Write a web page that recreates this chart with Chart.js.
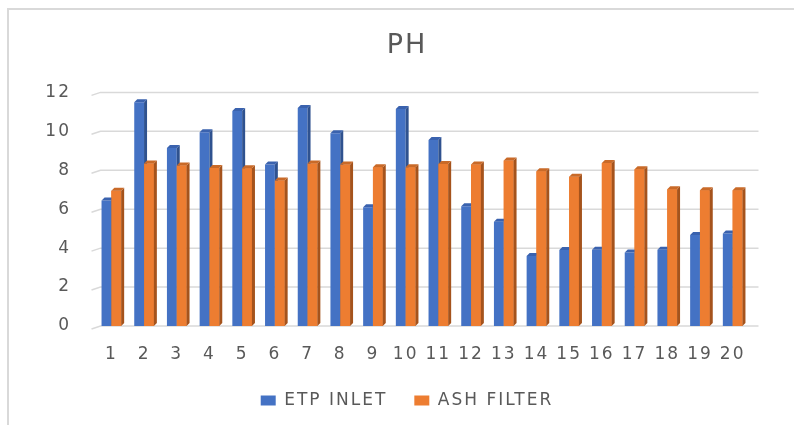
<!DOCTYPE html>
<html>
<head>
<meta charset="utf-8">
<script src="https://cdn.jsdelivr.net/npm/chart.js@4/dist/chart.umd.min.js"></script>
<style>
html,body{margin:0;padding:0;background:#fff;}
#wrap{width:794px;height:425px;position:relative;}
</style>
</head>
<body>
<div id="wrap"><canvas id="c" width="794" height="425"></canvas></div>
<script>
const categories = ["1","2","3","4","5","6","7","8","9","10","11","12","13","14","15","16","17","18","19","20"];
const etpInlet = [6.45, 11.5, 9.15, 9.95, 11.05, 8.3, 11.2, 9.9, 6.1, 11.15, 9.55, 6.15, 5.35, 3.6, 3.9, 3.92, 3.78, 3.92, 4.68, 4.75];
const ashFilter = [6.95, 8.35, 8.25, 8.12, 8.1, 7.47, 8.35, 8.3, 8.15, 8.15, 8.32, 8.3, 8.5, 7.95, 7.67, 8.37, 8.05, 7.03, 6.97, 6.97];
const yTicks = [0, 2, 4, 6, 8, 10, 12];

const FONT = "'DejaVu Sans', sans-serif";
const TXT = '#595959';

const spacingPlugin = {
  id: 'spacing',
  beforeUpdate(chart){ chart.ctx.letterSpacing = '2px'; },
  beforeDraw(chart){ chart.ctx.letterSpacing = '2px'; }
};

const framePlugin = {
  id: 'frame',
  beforeDraw(chart){
    const ctx = chart.ctx;
    ctx.save();
    ctx.strokeStyle = '#d9d9d9';
    ctx.lineWidth = 2;
    ctx.strokeRect(8, 9, 1200, 800);
    ctx.restore();
  }
};

const gridPlugin = {
  id: 'grid3d',
  beforeDatasetsDraw(chart){
    const ctx = chart.ctx, ys = chart.scales.y, a = chart.chartArea;
    ctx.save();
    ctx.strokeStyle = '#d9d9d9';
    ctx.lineWidth = 1.5;
    ys.ticks.forEach(t => {
      const y = ys.getPixelForValue(t.value);
      ctx.beginPath();
      ctx.moveTo(a.left - 3.5, y + 3);
      ctx.lineTo(a.left + 5.5, y);
      ctx.lineTo(a.right + 9.5, y);
      ctx.stroke();
    });
    ctx.restore();
  }
};

const sideColors = ['#2F528F', '#A5531C'];
const topColors = ['#3A62AE', '#C96A28'];
function drawFaces(ctx, meta, i){
  const d = 3;
  meta.data.forEach(el => {
    const p = el.getProps(['x','y','width','base'], true);
    const l = p.x - p.width/2, r = p.x + p.width/2;
    ctx.fillStyle = sideColors[i];
    ctx.beginPath();
    ctx.moveTo(r, p.y);
    ctx.lineTo(r + d, p.y - d);
    ctx.lineTo(r + d, p.base - d);
    ctx.lineTo(r, p.base);
    ctx.closePath();
    ctx.fill();
    ctx.fillStyle = topColors[i];
    ctx.beginPath();
    ctx.moveTo(l, p.y);
    ctx.lineTo(l + d, p.y - d);
    ctx.lineTo(r + d, p.y - d);
    ctx.lineTo(r, p.y);
    ctx.closePath();
    ctx.fill();
  });
}
const bar3dPlugin = {
  id: 'bar3d',
  afterDatasetsDraw(chart){
    const ctx = chart.ctx;
    ctx.save();
    drawFaces(ctx, chart.getDatasetMeta(0), 0);
    const m1 = chart.getDatasetMeta(1);
    m1.data.forEach(el => el.draw(ctx));
    drawFaces(ctx, m1, 1);
    ctx.restore();
  }
};

new Chart(document.getElementById('c'), {
  type: 'bar',
  data: {
    labels: categories,
    datasets: [
      { label: 'ETP INLET', data: etpInlet, backgroundColor: '#4472C4' },
      { label: 'ASH FILTER', data: ashFilter, backgroundColor: '#ED7D31' }
    ]
  },
  options: {
    responsive: false,
    animation: false,
    devicePixelRatio: 1,
    layout: { padding: { left: 20, right: 0, top: 0, bottom: 6 } },
    datasets: { bar: { categoryPercentage: 0.6, barPercentage: 1.0 } },
    plugins: {
      title: {
        display: true, text: 'PH', color: TXT,
        font: { family: FONT, size: 27, weight: 'normal' },
        padding: { top: 30, bottom: 30 }
      },
      legend: {
        position: 'bottom',
        labels: {
          color: TXT, font: { family: FONT, size: 17 },
          boxWidth: 15, boxHeight: 10, padding: 27
        }
      },
      tooltip: { enabled: false }
    },
    scales: {
      x: {
        grid: { display: false }, border: { display: false },
        afterFit: s => { s.height = 39; },
        ticks: { color: TXT, font: { family: FONT, size: 17 }, padding: 10, maxRotation: 0, autoSkip: false }
      },
      y: {
        min: 0, max: 12,
        grid: { display: false, drawTicks: false }, border: { display: false },
        afterBuildTicks: s => { s.ticks = yTicks.map(v => ({ value: v })); },
        afterFit: s => { s.width = 75; },
        ticks: { color: TXT, font: { family: FONT, size: 17 }, padding: 24 }
      },
      yr: {
        position: 'right',
        grid: { display: false, drawTicks: false }, border: { display: false },
        ticks: { display: false },
        afterFit: s => { s.width = 45; }
      }
    }
  },
  plugins: [spacingPlugin, framePlugin, gridPlugin, bar3dPlugin]
});
</script>
</body>
</html>
